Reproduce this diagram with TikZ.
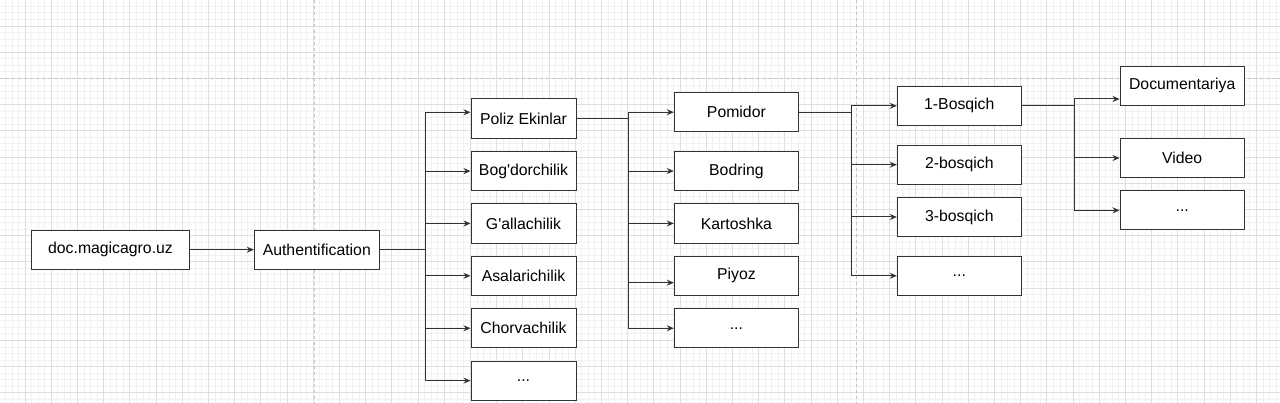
\documentclass[tikz,border=0pt]{standalone}
\usepackage{fontspec}
\setmainfont{Liberation Sans}
\usetikzlibrary{arrows.meta}
\definecolor{gridminor}{HTML}{F1F1F1}
\definecolor{gridmajor}{HTML}{DEDEDE}
\definecolor{pagebrk}{HTML}{C4C4C4}
\definecolor{strokec}{HTML}{333333}
\tikzset{
  box/.style={draw=strokec, line width=1pt, fill=white, minimum height=39.3pt,
    inner sep=0pt, font=\fontsize{15.8}{18}\selectfont, text=black},
  conn/.style={draw=strokec, line width=1pt},
  arr/.style={conn, -{Stealth[length=7pt,width=6pt]}},
  gminor/.style={gridminor, line width=0.8pt},
  gmajor/.style={gridmajor, line width=0.8pt},
  pbreak/.style={pagebrk, line width=1pt, dash pattern=on 3pt off 3pt}
}
\begin{document}
\begin{tikzpicture}[x=1pt,y=-1pt]
\useasboundingbox (0,0) rectangle (1280,403);
\fill[white] (0,0) rectangle (1280,403);
% grid
\foreach \i in {0,...,196} { \draw[gminor] ({5.35+6.55*\i},0) -- ++(0,403); }
\foreach \i in {0,...,62} { \draw[gminor] (0,{6.35+6.55*\i}) -- ++(1280,0); }
\foreach \i in {0,...,49} { \draw[gmajor] ({25+26.2*\i},0) -- ++(0,403); }
\foreach \i in {-1,...,15} { \draw[gmajor] (0,{26+26.2*\i}) -- ++(1280,0); }
\draw[pbreak] (314,0) -- (314,403);
\draw[pbreak] (856,0) -- (856,403);
\draw[pbreak] (0,79) -- (1280,79);

% nodes
\node[box, minimum width=157.6pt] (doc) at (110.5,249.7) {doc.magicagro.uz};
\node[box, minimum width=125pt] (auth) at (316.8,249.7) {Authentification};

\node[box, minimum width=105pt] (poliz) at (523.5,118.65) {Poliz Ekinlar};
\node[box, minimum width=105pt] (bog) at (523.5,171.05) {Bog\textquotesingle dorchilik};
\node[box, minimum width=105pt] (gall) at (523.5,223.45) {G\textquotesingle allachilik};
\node[box, minimum width=105pt] (asal) at (523.5,275.85) {Asalarichilik};
\node[box, minimum width=105pt] (chor) at (523.5,328.25) {Chorvachilik};
\node[box, minimum width=105pt] (etc2) at (523.5,380.65) {{.}{.}{.}};

\node[box, minimum width=124.2pt] (pom) at (736.4,112.2) {Pomidor};
\node[box, minimum width=124.2pt] (bod) at (736.4,171.05) {Bodring};
\node[box, minimum width=124.2pt] (kar) at (736.4,223.45) {Kartoshka};
\node[box, minimum width=124.2pt] (piy) at (736.4,275.85) {Piyoz};
\node[box, minimum width=124.2pt] (etc3) at (736.4,328.25) {{.}{.}{.}};

\node[box, minimum width=124pt] (b1) at (959.3,105.8) {1-Bosqich};
\node[box, minimum width=124pt] (b2) at (959.3,164.7) {2-bosqich};
\node[box, minimum width=124pt] (b3) at (959.3,217) {3-bosqich};
\node[box, minimum width=124pt] (etc4) at (959.3,275.8) {{.}{.}{.}};

\node[box, minimum width=124.3pt] (docu) at (1182.2,85.7) {Documentariya};
\node[box, minimum width=124.3pt] (vid) at (1182.2,158) {Video};
\node[box, minimum width=124.3pt] (etc5) at (1182.2,210.3) {{.}{.}{.}};

% junction columns
\coordinate (j1) at (425,0);
\coordinate (j2) at (628.3,0);
\coordinate (j3) at (851,0);
\coordinate (j4) at (1074,0);

% connectors
\draw[arr] (doc.east) -- (auth.west);

\draw[conn] (auth.east) -- (auth.east -| j1);
\draw[arr] (auth.east -| j1) |- ([yshift=6.35pt]poliz.west);
\draw[arr] (auth.east -| j1) |- (bog.west);
\draw[arr] (auth.east -| j1) |- (gall.west);
\draw[arr] (auth.east -| j1) |- (asal.west);
\draw[arr] (auth.east -| j1) |- (chor.west);
\draw[arr] (auth.east -| j1) |- (etc2.west);

\draw[conn] (poliz.east) -- (poliz.east -| j2);
\draw[arr] (poliz.east -| j2) |- (pom.west);
\draw[arr] (poliz.east -| j2) |- (bod.west);
\draw[arr] (poliz.east -| j2) |- (kar.west);
\draw[arr] (poliz.east -| j2) |- ([yshift=-6.85pt]piy.west);
\draw[arr] (poliz.east -| j2) |- (etc3.west);

\draw[conn] (pom.east) -- (pom.east -| j3);
\draw[arr] (pom.east -| j3) |- (b1.west);
\draw[arr] (pom.east -| j3) |- (b2.west);
\draw[arr] (pom.east -| j3) |- (b3.west);
\draw[arr] (pom.east -| j3) |- (etc4.west);

\draw[conn] (b1.east) -- (b1.east -| j4);
\draw[arr] (b1.east -| j4) |- ([yshift=-13.3pt]docu.west);
\draw[arr] (b1.east -| j4) |- (vid.west);
\draw[arr] (b1.east -| j4) |- (etc5.west);
\end{tikzpicture}
\end{document}
